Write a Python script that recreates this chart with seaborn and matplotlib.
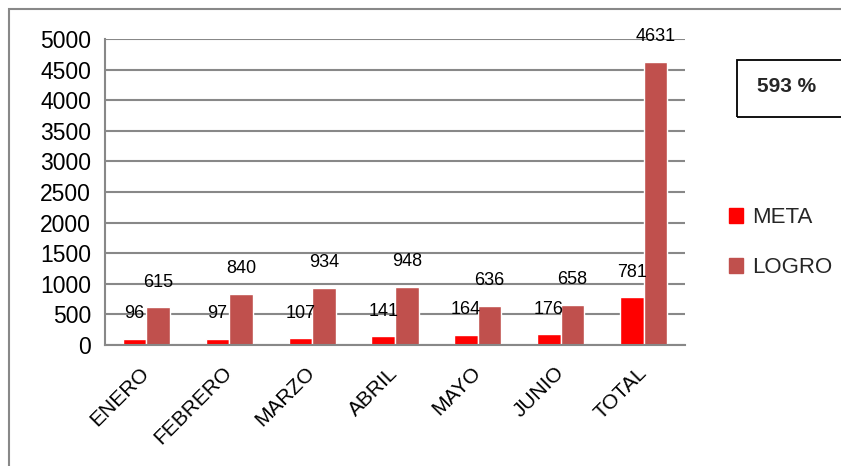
import numpy as np
import pandas as pd
import matplotlib
matplotlib.use("Agg")
import matplotlib.pyplot as plt
import seaborn as sns
from matplotlib.patches import Rectangle

# datos de la grafica
meses = ["ENERO", "FEBRERO", "MARZO", "ABRIL", "MAYO", "JUNIO", "TOTAL"]
meta = [96, 97, 107, 141, 164, 176, 781]
logro = [615, 840, 934, 948, 636, 658, 4631]
porcentaje = "593 %"

df = pd.DataFrame({
    "mes": meses * 2,
    "valor": meta + logro,
    "serie": ["META"] * len(meses) + ["LOGRO"] * len(meses),
})

sns.set_theme(style="white")
plt.rcParams['font.family'] = ['Liberation Sans', 'DejaVu Sans']

fig = plt.figure(figsize=(8.41, 4.66), dpi=100)
ax = fig.add_axes([105 / 841, 1 - 345 / 466, 580 / 841, 306 / 466])

sns.barplot(data=df, x="mes", y="valor", hue="serie", ax=ax,
            palette={"META": "#FF0000", "LOGRO": "#C0504D"},
            width=0.57, gap=0, saturation=1, legend=False)

for cont in ax.containers:
    ax.bar_label(cont, padding=12, fontsize=13, color="black")

ax.set_ylim(0, 5000)
ax.set_xlim(-0.5, len(meses) - 0.5)
ax.set_yticks(np.arange(0, 5001, 500))
ax.yaxis.grid(True, color="#888888", linewidth=1.5)
ax.set_axisbelow(True)
ax.set_xlabel("")
ax.set_ylabel("")

for s in ["top", "right"]:
    ax.spines[s].set_visible(False)
for s in ["left", "bottom"]:
    ax.spines[s].set_color("#888888")
    ax.spines[s].set_linewidth(1.5)

ax.tick_params(axis="y", length=6, width=1.5, color="#888888", labelsize=16.5, labelcolor="black", pad=4)
ax.set_xticks(np.arange(-0.5, len(meses), 1), minor=True)
ax.tick_params(axis="x", which="minor", length=6, width=1.5, color="#888888", direction="out")
ax.tick_params(axis="x", which="major", length=0, labelsize=15, labelcolor="black", pad=18)
for lbl in ax.get_xticklabels():
    lbl.set_rotation(45)
    lbl.set_ha("right")
    lbl.set_va("center")
    lbl.set_rotation_mode("anchor")

# leyenda
handles = [Rectangle((0, 0), 1, 1, color="#FF0000"), Rectangle((0, 0), 1, 1, color="#C0504D")]
fig.legend(handles, ["META", "LOGRO"], loc="upper left", bbox_to_anchor=(729 / 841, 1 - 207 / 466),
           frameon=False, fontsize=16, handlelength=0.65, handleheight=0.65,
           handletextpad=0.4, labelspacing=1.3, borderpad=0, borderaxespad=0)

# cuadro de porcentaje
fig.patches.append(Rectangle((737 / 841, 1 - 117 / 466), 110 / 841, 57 / 466,
                             transform=fig.transFigure, fill=False, edgecolor="black", linewidth=1.3))
fig.text(757 / 841, 1 - 87 / 466, porcentaje, fontsize=15, fontweight="bold", va="center", ha="left")

# borde exterior
fig.patches.append(Rectangle((9 / 841, -0.05), 1.1, 1 - 9 / 466 + 0.05,
                             transform=fig.transFigure, fill=False, edgecolor="#888888", linewidth=1.5))

fig.savefig("out.png", dpi=100)
